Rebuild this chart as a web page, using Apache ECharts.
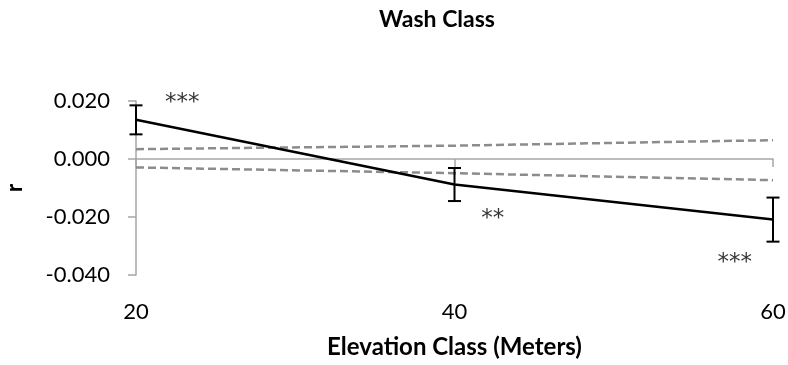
<!DOCTYPE html>
<html>
<head>
<meta charset="utf-8">
<script src="https://cdn.jsdelivr.net/npm/echarts@6/dist/echarts.min.js"></script>
<style>
html,body{margin:0;padding:0;background:#fff;}
#c{width:788px;height:365px;}
</style>
</head>
<body>
<div id="c"></div>
<script>
// Data
var elevation = [20, 40, 60];
var rValues = [0.0135, -0.0088, -0.0209];
var rError = [0.0050, 0.0057, 0.0076];
var upperBound = [0.0034, 0.0046, 0.0065];
var lowerBound = [-0.0029, -0.0049, -0.0073];
var sigX = [22.9, 42.4, 57.6];
var sigY = [0.0216, -0.0184, -0.0333];
var sigText = ['***', '**', '***'];
var yTicks = { min: -0.04, max: 0.02, interval: 0.02 };
var xTicks = { min: 20, max: 60, interval: 20 };

var FONT = 'Lato';
function pairs(xs, ys) { return xs.map(function (x, i) { return [x, ys[i]]; }); }

var chart = echarts.init(document.getElementById('c'), null, { renderer: 'canvas' });
var option = {
  animation: false,
  backgroundColor: '#ffffff',
  textStyle: { fontFamily: FONT },
  graphic: [{
    type: 'text', x: 437, y: 8,
    style: { text: 'Wash Class', fontFamily: FONT, fontWeight: 'bold', fontSize: 23, fill: '#000', textAlign: 'center' }
  }],
  grid: { left: 136, right: 15, top: 101, bottom: 90, containLabel: false, outerBoundsMode: 'none' },
  xAxis: [{
    type: 'value', min: xTicks.min, max: xTicks.max, interval: xTicks.interval,
    position: 'bottom',
    axisLine: { show: false, onZero: false }, axisTick: { show: false }, splitLine: { show: false },
    axisLabel: { fontSize: 22, color: '#000', margin: 26, fontFamily: FONT },
    name: 'Elevation Class (Meters)', nameLocation: 'middle', nameGap: 60,
    nameTextStyle: { fontSize: 24, fontWeight: 'bold', color: '#000', fontFamily: FONT }
  }, {
    type: 'value', min: xTicks.min, max: xTicks.max, interval: xTicks.interval,
    position: 'top',
    axisLine: { show: true, onZero: true, onZeroAxisIndex: 0, lineStyle: { color: '#a6a6a6', width: 1.5 } },
    axisTick: { show: true, inside: true, length: 8, lineStyle: { color: '#a6a6a6', width: 1.5 } },
    axisLabel: { show: false }, splitLine: { show: false }
  }],
  yAxis: [{
    type: 'value', min: yTicks.min, max: yTicks.max, interval: yTicks.interval,
    axisLine: { show: true, onZero: false, lineStyle: { color: '#a6a6a6', width: 1.5 } },
    axisTick: { show: true, length: 8, lineStyle: { color: '#a6a6a6', width: 1.5 } },
    splitLine: { show: false },
    axisLabel: { fontSize: 22, color: '#000', margin: 26, fontFamily: FONT,
      formatter: function (v) { return v.toFixed(3); } },
    name: 'r', nameLocation: 'middle', nameGap: 110, nameRotate: 90,
    nameTextStyle: { fontSize: 22, fontWeight: 'bold', color: '#000', fontFamily: FONT }
  }],
  series: [{
    type: 'line', xAxisIndex: 0, data: pairs(elevation, upperBound), showSymbol: false, symbol: 'none',
    lineStyle: { color: '#8c8c8c', width: 2.5, type: [8, 4] }, z: 2
  }, {
    type: 'line', xAxisIndex: 0, data: pairs(elevation, lowerBound), showSymbol: false, symbol: 'none',
    lineStyle: { color: '#8c8c8c', width: 2.5, type: [8, 4] }, z: 2
  }, {
    type: 'line', xAxisIndex: 0, data: pairs(elevation, rValues), showSymbol: false, symbol: 'none',
    lineStyle: { color: '#000', width: 2.5 }, z: 3
  }, {
    type: 'custom', xAxisIndex: 0, z: 4, clip: false,
    data: elevation.map(function (x, i) { return [x, rValues[i] - rError[i], rValues[i] + rError[i]]; }),
    renderItem: function (params, api) {
      var x = api.value(0);
      var lo = api.coord([x, api.value(1)]);
      var hi = api.coord([x, api.value(2)]);
      var w = 6.5;
      var st = { stroke: '#000', lineWidth: 2 };
      return { type: 'group', children: [
        { type: 'line', shape: { x1: hi[0], y1: hi[1], x2: lo[0], y2: lo[1] }, style: st },
        { type: 'line', shape: { x1: hi[0] - w, y1: hi[1], x2: hi[0] + w, y2: hi[1] }, style: st },
        { type: 'line', shape: { x1: lo[0] - w, y1: lo[1], x2: lo[0] + w, y2: lo[1] }, style: st }
      ] };
    }
  }, {
    type: 'scatter', xAxisIndex: 0, symbolSize: 0, z: 5, clip: false,
    data: sigX.map(function (x, i) { return { value: [x, sigY[i]], name: sigText[i] }; }),
    label: { show: true, position: 'inside', offset: [0, 7], formatter: function (p) { return p.name; },
      fontSize: 23, color: '#000', fontFamily: 'DejaVu Sans', letterSpacing: 2 }
  }]
};
chart.setOption(option);
</script>
</body>
</html>
